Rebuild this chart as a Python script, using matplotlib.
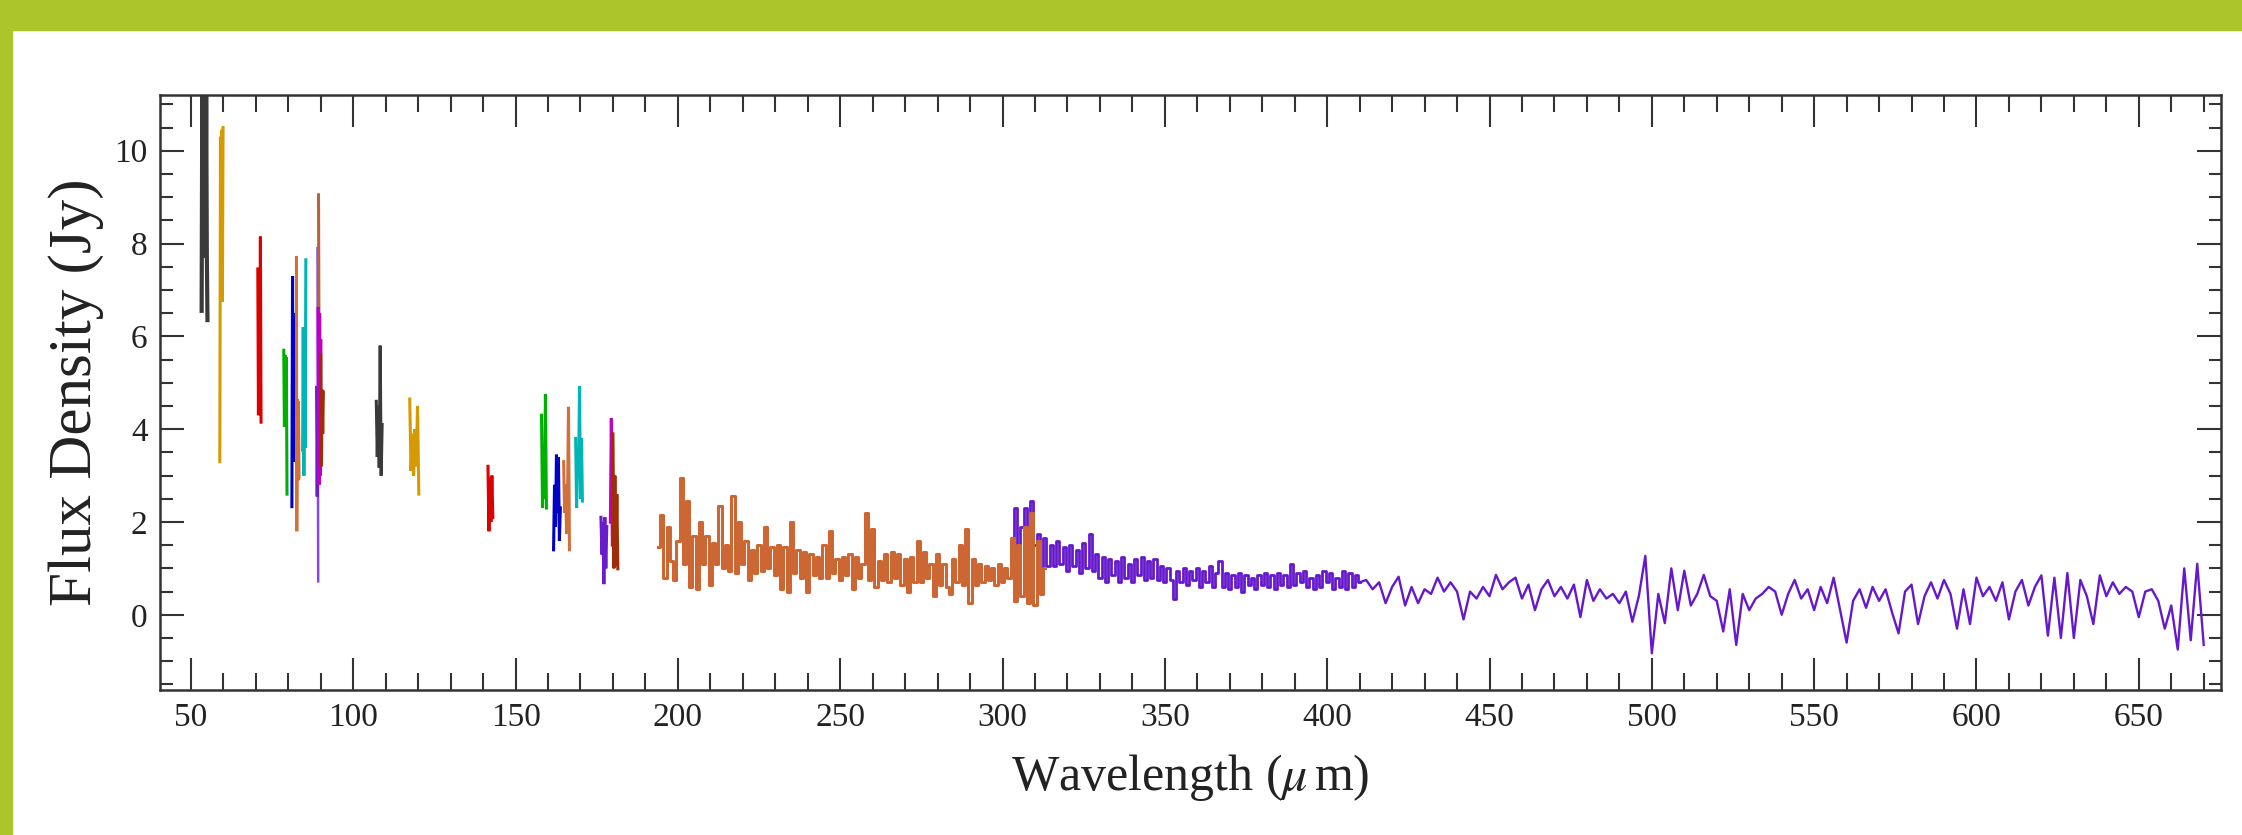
import numpy as np
import matplotlib.pyplot as plt
from matplotlib.patches import Rectangle
from matplotlib.ticker import MultipleLocator

plt.rcParams['font.family'] = 'Liberation Serif'
plt.rcParams['mathtext.fontset'] = 'stix'

# PACS line scans: wavelength (um) / flux density (Jy)
S54_X  = [53.3, 53.5, 53.7, 53.9, 54.1, 54.3, 54.5, 54.7, 54.9, 55.1]
S54_Y  = [6.55, 11.3, 7.7, 11.3, 7.7, 11.3, 7.7, 11.3, 7.75, 6.35]
S59_X  = [58.9, 59.1, 59.3, 59.5, 59.7, 59.9]
S59_Y  = [3.3, 10.3, 6.8, 10.45, 6.75, 10.5]
S71_X  = [70.6, 70.8, 71.0, 71.2, 71.4, 71.6]
S71_Y  = [7.45, 4.3, 7.45, 4.35, 8.15, 4.15]
S79_X  = [78.6, 78.8, 79.0, 79.2, 79.4, 79.6]
S79_Y  = [5.7, 4.05, 5.6, 4.1, 5.55, 2.6]
S81_X  = [81.1, 81.3, 81.5, 81.7, 81.9, 82.0]
S81_Y  = [2.33, 7.3, 3.3, 6.5, 3.3, 6.4]
S83_X  = [82.5, 82.6, 82.8, 83.0, 83.1, 83.3]
S83_Y  = [7.7, 1.8, 4.65, 2.9, 4.6, 2.95]
S85_X  = [84.4, 84.6, 84.8, 85.0, 85.2, 85.4]
S85_Y  = [3.55, 6.2, 3.0, 6.2, 3.6, 7.65]
S89A_X = [89.0, 89.2]
S89A_Y = [7.9, 0.72]
S89B_X = [89.3, 89.5]
S89B_Y = [9.05, 5.0]
S89C_X = [88.7, 88.9, 89.1]
S89C_Y = [4.9, 2.55, 4.85]
S89D_X = [89.2, 89.4, 89.6, 89.8, 90.0]
S89D_Y = [6.6, 2.8, 6.5, 3.0, 5.9]
S89E_X = [90.0, 90.2, 90.4, 90.6, 90.8]
S89E_Y = [5.6, 3.2, 4.85, 3.9, 4.8]
S108_X = [107.1, 107.4, 107.7, 108.0, 108.3, 108.6, 108.9]
S108_Y = [4.6, 3.4, 4.5, 3.17, 5.8, 3.0, 4.1]
S119_X = [117.4, 117.8, 118.2, 118.6, 119.0, 119.4, 119.8, 120.2]
S119_Y = [4.65, 3.1, 3.9, 3.0, 4.0, 3.2, 4.5, 2.6]
S142_X = [141.5, 141.8, 142.1, 142.4, 142.7, 143.0]
S142_Y = [3.2, 1.8, 2.95, 2.0, 3.0, 2.1]
S159_X = [158.0, 158.3, 158.6, 158.9, 159.2, 159.5]
S159_Y = [4.3, 2.3, 3.5, 2.5, 4.75, 2.3]
S163_X = [161.7, 162.0, 162.3, 162.6, 162.9, 163.2, 163.5, 163.8]
S163_Y = [1.4, 2.8, 1.9, 3.45, 2.2, 3.4, 1.6, 2.3]
S166_X = [164.8, 165.1, 165.4, 165.7, 166.0, 166.3, 166.6]
S166_Y = [3.3, 2.2, 2.8, 1.75, 2.4, 4.48, 1.4]
S170_X = [168.5, 168.8, 169.1, 169.4, 169.7, 170.0, 170.3, 170.6]
S170_Y = [3.8, 2.3, 3.4, 2.95, 4.93, 2.5, 3.8, 2.45]
S177_X = [176.3, 176.6, 176.9, 177.2, 177.5, 177.8, 178.1]
S177_Y = [2.1, 1.3, 2.0, 0.66, 2.1, 1.0, 1.9]
S179_X = [179.2, 179.5, 179.8]
S179_Y = [2.0, 4.24, 1.5]
S181_X = [180.0, 180.3, 180.6, 180.9, 181.2, 181.5]
S181_Y = [3.9, 1.0, 3.0, 1.05, 2.6, 0.99]

# SPIRE SSW, 1 um sampling from 194 to 313 um
SSW_START, SSW_END = 194, 313
SSW_FLUX = [
    1.45, 2.15, 0.8, 1.9, 1.15, 0.75, 1.6, 2.95, 1.1, 2.45,
    0.6, 1.7, 0.55, 2.0, 1.1, 1.7, 0.65, 1.55, 1.1, 2.35,
    1.0, 1.5, 0.95, 2.55, 0.9, 2.0, 1.1, 1.6, 0.75, 1.4,
    0.9, 1.5, 0.95, 1.9, 1.0, 1.45, 0.85, 1.5, 0.55, 1.45,
    0.5, 2.0, 0.9, 1.4, 0.8, 1.35, 0.5, 1.3, 0.85, 1.25,
    0.8, 1.5, 0.8, 1.8, 0.9, 1.2, 0.75, 1.25, 0.85, 1.3,
    0.55, 1.25, 0.8, 1.1, 2.2, 0.75, 1.85, 0.6, 1.15, 0.75,
    1.3, 0.7, 1.35, 0.8, 1.3, 0.65, 1.2, 0.5, 1.25, 0.7,
    1.6, 0.7, 1.35, 0.8, 1.1, 0.4, 1.3, 0.65, 1.1, 0.6,
    0.45, 1.2, 0.7, 1.5, 0.65, 1.85, 0.25, 1.2, 0.65, 1.1,
    0.7, 1.05, 0.75, 1.0, 0.65, 1.1, 0.7, 1.0, 0.8, 1.65,
    0.3, 1.5, 0.4, 1.9, 0.25, 2.2, 0.2, 1.6, 0.45, 1.0,
]

# SPIRE SLW, 1 um sampling from 303 to 410 um
SLW_A_START, SLW_A_END = 303, 410
SLW_A_FLUX = [
    1.45, 2.3, 1.3, 1.9, 2.3, 1.25, 2.45, 1.5, 1.75, 1.0,
    1.65, 1.05, 1.5, 1.05, 1.6, 1.1, 1.45, 0.95, 1.5, 1.05,
    1.4, 0.9, 1.55, 1.0, 1.75, 0.95, 1.3, 0.8, 1.25, 0.7,
    1.2, 0.85, 1.15, 0.7, 1.25, 0.8, 1.1, 0.7, 1.2, 0.85,
    1.25, 0.75, 1.15, 0.8, 1.2, 0.75, 1.05, 0.7, 1.0, 0.75,
    0.35, 0.95, 0.7, 1.0, 0.65, 0.95, 0.75, 1.0, 0.6, 0.95,
    0.7, 1.05, 0.6, 0.9, 1.15, 0.6, 0.9, 0.55, 0.85, 0.6,
    0.9, 0.5, 0.85, 0.65, 0.8, 0.55, 0.85, 0.65, 0.9, 0.6,
    0.85, 0.55, 0.9, 0.65, 0.85, 0.6, 1.1, 0.65, 0.9, 0.7,
    0.95, 0.6, 0.8, 0.55, 0.85, 0.6, 0.95, 0.7, 0.9, 0.55,
    0.8, 0.6, 0.95, 0.55, 0.9, 0.6, 0.85, 0.7,
]

# SPIRE SLW, 2 um sampling from 412 to 670 um
SLW_B_START, SLW_B_END = 412, 670
SLW_B_FLUX = [
    0.75, 0.55, 0.7, 0.25, 0.6, 0.82, 0.2, 0.6, 0.25, 0.55,
    0.45, 0.8, 0.5, 0.7, 0.5, -0.1, 0.5, 0.35, 0.6, 0.4,
    0.86, 0.55, 0.7, 0.8, 0.35, 0.65, 0.1, 0.55, 0.75, 0.4,
    0.6, 0.35, 0.65, -0.05, 0.75, 0.3, 0.55, 0.35, 0.45, 0.25,
    0.5, -0.15, 0.4, 1.27, -0.83, 0.45, -0.18, 1.0, 0.1, 0.95,
    0.2, 0.45, 0.86, 0.4, 0.3, -0.36, 0.55, -0.65, 0.45, 0.1,
    0.35, 0.45, 0.6, 0.5, 0.0, 0.45, 0.75, 0.35, 0.55, 0.1,
    0.6, 0.25, 0.8, 0.1, -0.6, 0.3, 0.55, 0.15, 0.6, 0.3,
    0.55, 0.05, -0.4, 0.5, 0.65, -0.2, 0.4, 0.7, 0.35, 0.75,
    0.45, -0.3, 0.55, -0.2, 0.8, 0.4, 0.6, 0.3, 0.7, -0.1,
    0.5, 0.75, 0.2, 0.6, 0.85, -0.45, 0.8, -0.5, 0.9, -0.5,
    0.75, 0.4, -0.2, 0.85, 0.4, 0.7, 0.45, 0.6, 0.5, -0.05,
    0.5, 0.55, 0.3, -0.3, 0.2, -0.75, 1.0, -0.55, 1.1, -0.65,
]

BORDER = '#abc52a'
INK = '#222222'
SLW_COLOR = '#6619cc'
SSW_COLOR = '#cc6633'


def main():
    fig = plt.figure(figsize=(22.42, 8.35), dpi=100)

    # green frame around the slide
    fig.patches.append(Rectangle((0, 1 - 30 / 835), 1, 30 / 835, transform=fig.transFigure,
                                 color=BORDER, zorder=0))
    fig.patches.append(Rectangle((0, 0), 12 / 2242, 1, transform=fig.transFigure,
                                 color=BORDER, zorder=0))

    ax = fig.add_axes([0.0714, 0.1737, 0.9192, 0.7125])

    scans = [
        (S54_X, S54_Y, '#3a3a3a', 3.0),
        (S59_X, S59_Y, '#d49a00', 2.2),
        (S71_X, S71_Y, '#dd0000', 2.2),
        (S79_X, S79_Y, '#00b000', 2.2),
        (S81_X, S81_Y, '#0000c8', 2.2),
        (S83_X, S83_Y, '#d2703c', 2.2),
        (S85_X, S85_Y, '#00b5b5', 2.2),
        (S89A_X, S89A_Y, '#8848e8', 1.8),
        (S89B_X, S89B_Y, '#b8643a', 2.2),
        (S89C_X, S89C_Y, '#6a1ccc', 2.2),
        (S89D_X, S89D_Y, '#c000c0', 2.4),
        (S89E_X, S89E_Y, '#a02c08', 2.2),
        (S108_X, S108_Y, '#3a3a3a', 2.2),
        (S119_X, S119_Y, '#d49a00', 2.2),
        (S142_X, S142_Y, '#dd0000', 2.2),
        (S159_X, S159_Y, '#00b000', 2.2),
        (S163_X, S163_Y, '#0000c8', 2.2),
        (S166_X, S166_Y, '#d2703c', 2.2),
        (S170_X, S170_Y, '#00b5b5', 2.2),
        (S177_X, S177_Y, '#6a1ccc', 2.2),
        (S179_X, S179_Y, '#c000c0', 2.2),
        (S181_X, S181_Y, '#a02c08', 2.2),
    ]
    for xs, ys, color, lw in scans:
        ax.plot(xs, ys, color=color, lw=lw, solid_joinstyle='miter')

    ssw_wl = np.linspace(SSW_START, SSW_END, len(SSW_FLUX))
    slw_a_wl = np.linspace(SLW_A_START, SLW_A_END, len(SLW_A_FLUX))
    slw_b_wl = np.linspace(SLW_B_START, SLW_B_END, len(SLW_B_FLUX))

    # dense short-wavelength part drawn as steps, the smoother tail as a plain line
    ax.plot(slw_a_wl, SLW_A_FLUX, color=SLW_COLOR, lw=2.0, drawstyle='steps-mid')
    ax.plot(np.concatenate([slw_a_wl[-1:], slw_b_wl]),
            np.concatenate([SLW_A_FLUX[-1:], SLW_B_FLUX]),
            color=SLW_COLOR, lw=1.7)
    ax.plot(ssw_wl, SSW_FLUX, color=SSW_COLOR, lw=2.2, drawstyle='steps-mid')

    ax.set_xlim(40.5, 675.3)
    ax.set_ylim(-1.62, 11.2)
    ax.xaxis.set_major_locator(MultipleLocator(50))
    ax.xaxis.set_minor_locator(MultipleLocator(10))
    ax.yaxis.set_major_locator(MultipleLocator(2))
    ax.yaxis.set_minor_locator(MultipleLocator(0.5))

    for sp in ax.spines.values():
        sp.set_linewidth(1.8)
        sp.set_color('#333333')
    ax.tick_params(which='both', direction='in', top=True, right=True,
                   color='#333333', width=1.5, labelcolor=INK)
    ax.tick_params(axis='x', which='major', length=23, labelsize=24, pad=9)
    ax.tick_params(axis='x', which='minor', length=12)
    ax.tick_params(axis='y', which='major', length=17, labelsize=24, pad=9)
    ax.tick_params(axis='y', which='minor', length=9)

    ax.set_xlabel(r'Wavelength ($\mu\,$m)', fontsize=36, color=INK)
    ax.set_ylabel('Flux Density (Jy)', fontsize=44, color=INK)
    ax.xaxis.set_label_coords(0.5, -0.105)
    ax.yaxis.set_label_coords(-0.027, 0.5)

    fig.savefig('out.png', dpi=100)


if __name__ == '__main__':
    main()
